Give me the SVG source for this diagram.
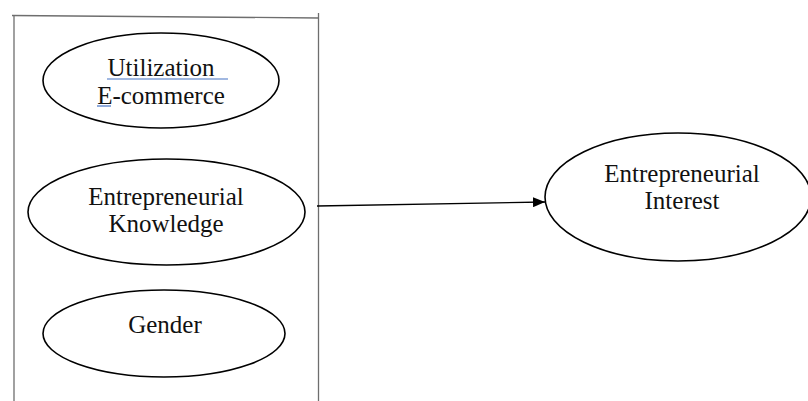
<svg xmlns="http://www.w3.org/2000/svg" width="808" height="401" viewBox="0 0 808 401">
<style>
.frame{stroke:#6e6e6e;stroke-width:1.3;fill:none}
.node{fill:#fff;stroke:#000;stroke-width:1.6}
.lbl{font-family:"Liberation Serif","Times New Roman",serif;font-size:25px;fill:#111;text-anchor:middle}
.spell{stroke:#4472c4;stroke-width:1.2}
.conn{stroke:#000;stroke-width:1.4;fill:none}
</style>
<defs>
<marker id="ah" markerWidth="12" markerHeight="10" refX="12" refY="5" orient="auto" markerUnits="userSpaceOnUse">
<path d="M0,0 L12,5 L0,10 Z" fill="#000"/>
</marker>
</defs>
<rect width="808" height="401" fill="#fff"/>
<g id="frame">
<line class="frame" x1="12" y1="15.5" x2="319" y2="18"/>
<line class="frame" x1="14" y1="15" x2="14" y2="401"/>
<line class="frame" x1="318.5" y1="13" x2="318.5" y2="401"/>
</g>
<g id="connectors">
<line class="conn" x1="317" y1="206" x2="545" y2="202" marker-end="url(#ah)"/>
</g>
<g id="node-ecommerce">
<ellipse class="node" cx="161" cy="80.5" rx="118" ry="47.5"/>
<text class="lbl" x="161" y="76">Utilization</text>
<text class="lbl" x="161" y="104">E-commerce</text>
<line class="spell" x1="107" y1="79" x2="228" y2="79"/>
<line class="spell" x1="97" y1="106" x2="111" y2="106"/>
</g>
<g id="node-knowledge">
<ellipse class="node" cx="166.5" cy="212" rx="138.5" ry="53"/>
<text class="lbl" x="166" y="205">Entrepreneurial</text>
<text class="lbl" x="166" y="232">Knowledge</text>
</g>
<g id="node-gender">
<ellipse class="node" cx="164" cy="333.5" rx="121" ry="43.5"/>
<text class="lbl" x="165" y="333">Gender</text>
</g>
<g id="node-interest">
<ellipse class="node" cx="678" cy="197" rx="133" ry="64"/>
<text class="lbl" x="682" y="182">Entrepreneurial</text>
<text class="lbl" x="682" y="209">Interest</text>
</g>
</svg>
